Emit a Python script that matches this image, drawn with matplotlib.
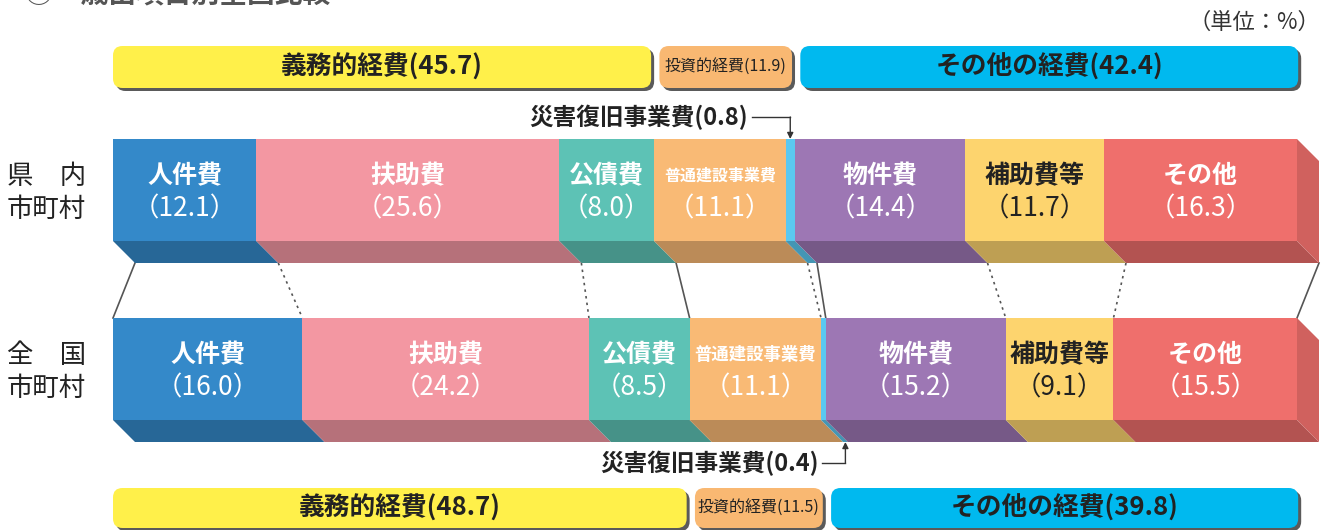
import numpy as np
import matplotlib
matplotlib.use('Agg')
from matplotlib import pyplot as plt
from matplotlib.patches import Polygon, FancyBboxPatch

plt.rcParams['font.family'] = ['Noto Sans CJK JP', 'DejaVu Sans']

# data
categories = ['人件費', '扶助費', '公債費', '普通建設事業費', '災害復旧事業費', '物件費', '補助費等', 'その他']
pref_values = [12.1, 25.6, 8.0, 11.1, 0.8, 14.4, 11.7, 16.3]
nat_values = [16.0, 24.2, 8.5, 11.1, 0.4, 15.2, 9.1, 15.5]
group_names = ['義務的経費', '投資的経費', 'その他の経費']
pref_groups = [45.7, 11.9, 42.4]
nat_groups = [48.7, 11.5, 39.8]
row_labels = ['県　内\n市町村', '全　国\n市町村']

colors = ['#3489C9', '#F397A2', '#5DC2B5', '#F9BA75', '#5BC8F0', '#9D77B4', '#FDD46E', '#EF6F6C']
text_colors = ['white', 'white', 'white', 'white', 'white', 'white', '#222222', 'white']
group_colors = ['#FFF04A', '#F9B872', '#00B9EF']

# layout (pixels, x in percent units)
PX = 11.84
X0 = 113
d = 22 / PX
bar_h = 102
depth = 22
rows = [139, 318]   # top edge of front face

fig = plt.figure(figsize=(13.26, 5.30), dpi=100)
ax = fig.add_axes([0, 0, 1, 1])
ax.set_xlim(-X0 / PX, (1326 - X0) / PX)
ax.set_ylim(530, 0)
ax.axis('off')


def shade(c, f):
    rgb = np.array(matplotlib.colors.to_rgb(c)) * f
    return tuple(rgb)


def draw_bar(vals, top, name_sizes):
    vals = np.array(vals)
    starts = np.concatenate([[0], np.cumsum(vals)[:-1]])
    ax.barh(top + bar_h / 2, vals, left=starts, height=bar_h, color=colors, zorder=3)
    bot = top + bar_h
    for s, w, c in zip(starts, vals, colors):
        ax.add_patch(Polygon([(s, bot), (s + w, bot), (s + w + d, bot + depth), (s + d, bot + depth)],
                             closed=True, facecolor=shade(c, 0.75), edgecolor='none', zorder=2))
    end = starts[-1] + vals[-1]
    ax.add_patch(Polygon([(end, top), (end + d, top + depth), (end + d, bot + depth), (end, bot)],
                         closed=True, facecolor=shade(colors[-1], 0.87), edgecolor='none', zorder=2))
    for i, (s, w) in enumerate(zip(starts, vals)):
        if i == 4:
            continue
        cx = s + w / 2
        ax.text(cx, top + 37, categories[i], ha='center', va='center', color=text_colors[i],
                fontsize=name_sizes[i], fontweight='bold', zorder=4)
        ax.text(cx, top + 70, '（%.1f）' % w, ha='center', va='center', color=text_colors[i],
                fontsize=19, zorder=4)
    return starts


def draw_groups(vals, y, h):
    edges = np.concatenate([[0], np.cumsum(vals)])
    for i, v in enumerate(vals):
        a = edges[i] + (0 if i == 0 else 0.45)
        b = edges[i + 1] - (0.25 if i < len(vals) - 1 else -0.1)
        for off, fc, z in [((3 / PX, 3), '#5a5a5a', 2), ((0, 0), group_colors[i], 3)]:
            ax.add_patch(FancyBboxPatch((a + off[0], y + off[1]), b - a, h,
                                        boxstyle='round,pad=0,rounding_size=0.8',
                                        mutation_aspect=PX, facecolor=fc,
                                        edgecolor='none', zorder=z))
        if i == 1:
            ax.text((a + b) / 2, y + h / 2, '%s(%.1f)' % (group_names[i], v), ha='center', va='center',
                    fontsize=11.5, color='#222222', zorder=4)
        else:
            ax.text((a + b) / 2, y + h / 2, '%s(%.1f)' % (group_names[i], v), ha='center', va='center',
                    fontsize=18.5, fontweight='bold', color='#222222', zorder=4)


sizes_top = [18, 18, 18, 11.5, 10, 18, 18, 18]
sizes_bot = [18, 18, 18, 12.5, 10, 18, 18, 18]
s_top = draw_bar(pref_values, rows[0], sizes_top)
s_bot = draw_bar(nat_values, rows[1], sizes_bot)

# connector lines between the two bars
b_top = np.concatenate([s_top, [100]])
b_bot = np.concatenate([s_bot, [100]])
solid = {0, 3, 5, 8}
for i in range(len(b_top)):
    ls = '-' if i in solid else (0, (1.5, 2.5))
    ax.plot([b_top[i] + d, b_bot[i]], [rows[0] + bar_h + depth, rows[1]],
            color='#555555', lw=1.2, linestyle=ls, zorder=1)

# group boxes
draw_groups(pref_groups, 46, 42)
draw_groups(nat_groups, 488, 40)

# 災害復旧事業費 annotations
arrow_x = s_top[4] + pref_values[4] / 2
ax.text(arrow_x - 42 / PX, 117, '災害復旧事業費(%.1f)' % pref_values[4], ha='right', va='center',
        fontsize=17, fontweight='bold', color='#222222')
ax.plot([arrow_x - 38 / PX, arrow_x], [117, 117], color='#333333', lw=1)
ax.annotate('', xy=(arrow_x, rows[0]), xytext=(arrow_x, 117),
            arrowprops=dict(arrowstyle='-|>', color='#333333', lw=1, mutation_scale=9,
                            shrinkA=0, shrinkB=0))

arrow_x2 = s_bot[4] + nat_values[4] / 2 + d
y2 = rows[1] + bar_h + depth
ax.text(arrow_x2 - 27 / PX, 463, '災害復旧事業費(%.1f)' % nat_values[4], ha='right', va='center',
        fontsize=17, fontweight='bold', color='#222222')
ax.plot([arrow_x2 - 23 / PX, arrow_x2], [463, 463], color='#333333', lw=1)
ax.annotate('', xy=(arrow_x2, y2), xytext=(arrow_x2, 463),
            arrowprops=dict(arrowstyle='-|>', color='#333333', lw=1, mutation_scale=9,
                            shrinkA=0, shrinkB=0))

# row labels
for top, lab in zip(rows, row_labels):
    ax.text(-X0 / PX + 7 / PX, top + bar_h / 2 + 3, lab, ha='left', va='center', fontsize=19,
            color='#222222', linespacing=1.25)

# unit and title
ax.text((1320 - X0) / PX, 22, '（単位：%）', ha='right', va='center', fontsize=16, color='#333333')
ax.text((25 - X0) / PX, 8, '②　歳出項目別全国比較', ha='left', va='bottom', fontsize=20,
        fontweight='bold', color='#555555')

fig.savefig('out.png', dpi=100)
